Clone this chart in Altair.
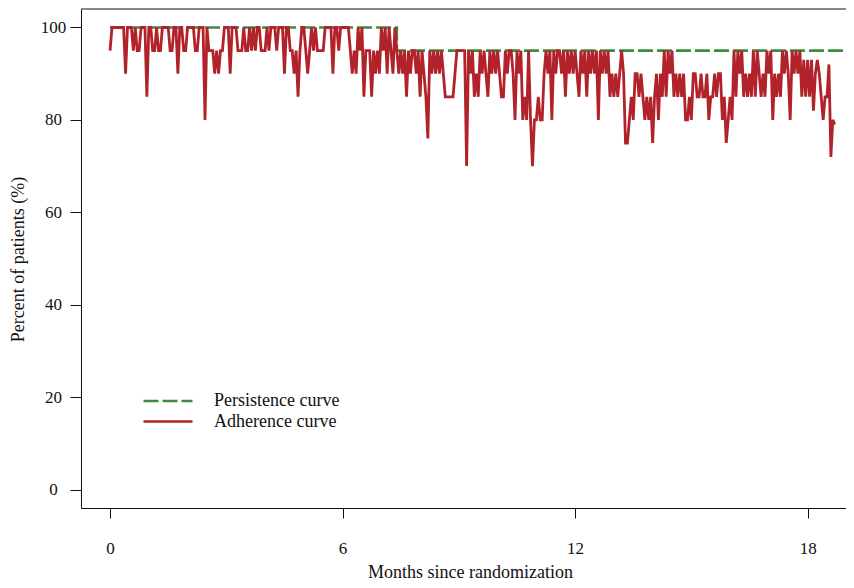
import altair as alt
import pandas as pd

# ---------------- data ----------------
STEP = 0.05  # months between adherence samples

adherence_pct_m0_5 = [
    95, 100, 100, 100, 100, 100, 100, 100, 90, 100, 100, 100, 95, 100, 95, 95, 100, 100, 100, 85,
    100, 100, 95, 95, 100, 95, 95, 100, 100, 100, 100, 95, 95, 100, 100, 90, 100, 100, 95, 95,
    100, 100, 100, 100, 95, 95, 100, 100, 100, 80, 100, 95, 95, 95, 90, 95, 90, 95, 95, 100,
    100, 100, 90, 100, 100, 100, 95, 95, 95, 100, 95, 95, 100, 95, 100, 95, 100, 100, 95, 95,
    95, 100, 95, 100, 100, 100, 95, 100, 100, 100, 90, 100, 100, 95, 95, 90, 95, 85, 95, 100,
    100, 95, 90, 95, 100, 95, 100, 95, 95, 95, 95, 100, 100, 100, 100, 90, 100, 100, 95, 100,
]
adherence_pct_m6_11 = [
    100, 100, 100, 100, 95, 90, 95, 90, 100, 95, 100, 85, 95, 95, 95, 85, 95, 90, 95, 90,
    100, 95, 100, 90, 100, 95, 90, 100, 95, 90, 95, 90, 95, 85, 95, 90, 95, 95, 90, 95,
    85, 95, 90, 85, 76, 95, 90, 95, 90, 95, 90, 95, 90, 85, 85, 85, 85, 85, 90, 95,
    95, 95, 95, 95, 70, 95, 90, 95, 85, 90, 85, 95, 90, 95, 90, 85, 95, 90, 95, 90,
    95, 90, 85, 85, 95, 90, 95, 95, 90, 80, 95, 90, 95, 80, 85, 80, 95, 80, 70, 80,
    80, 85, 80, 80, 90, 95, 90, 95, 80, 95, 90, 95, 95, 90, 95, 85, 95, 90, 95, 90,
]
adherence_pct_m12_18 = [
    95, 90, 85, 95, 90, 95, 85, 95, 90, 95, 90, 95, 80, 95, 90, 95, 90, 95, 85, 90,
    85, 90, 85, 90, 95, 90, 75, 75, 80, 85, 80, 90, 90, 85, 90, 85, 80, 85, 80, 85,
    75, 85, 90, 80, 90, 85, 95, 85, 95, 90, 95, 85, 90, 85, 90, 85, 90, 80, 80, 85,
    80, 90, 90, 85, 85, 90, 85, 85, 90, 80, 85, 85, 90, 85, 90, 90, 80, 85, 75, 80,
    85, 80, 95, 85, 95, 90, 95, 85, 90, 85, 90, 85, 95, 85, 95, 90, 85, 90, 85, 95,
    90, 95, 80, 90, 85, 90, 85, 95, 90, 95, 90, 80, 95, 90, 95, 90, 95, 85, 93, 85,
    93, 85, 93, 82, 90, 93, 90, 85, 80, 85, 85, 92, 72, 80, 79,
]

persistence_months = [0.0, 7.4, 19.2]
persistence_pct = [100, 95, 95]

series_names = ["Persistence curve", "Adherence curve"]
series_colors = ["#3f8a3f", "#b2222a"]
series_dashes = [[15, 4], [1, 0]]

x_ticks = [0, 6, 12, 18]
y_ticks = [0, 20, 40, 60, 80, 100]
x_domain = [-0.75, 18.99]
y_domain = [-4, 104]

# ---------------- tables ----------------
adherence_pct = adherence_pct_m0_5 + adherence_pct_m6_11 + adherence_pct_m12_18
adherence_months = [round(i * STEP, 2) for i in range(len(adherence_pct))]

persist_df = pd.DataFrame({
    "month": persistence_months,
    "pct": persistence_pct,
    "series": [series_names[0]] * len(persistence_pct),
})
adhere_df = pd.DataFrame({
    "month": adherence_months,
    "pct": adherence_pct,
    "series": [series_names[1]] * len(adherence_pct),
})

FONT = "Liberation Serif"
INK = "#111111"
W, H = 765, 499

x_enc = alt.X(
    "month:Q",
    scale=alt.Scale(domain=x_domain, nice=False, zero=False),
    axis=alt.Axis(
        values=x_ticks, format="d", title="Months since randomization",
        grid=False, domainColor=INK, domainWidth=1, tickColor=INK, tickWidth=1,
        tickSize=10, labelFont=FONT, labelFontSize=17, labelColor=INK,
        labelPadding=22, labelFlush=False, labelOverlap=False,
        titleFont=FONT, titleFontSize=18, titleFontWeight="normal", titleColor=INK,
        titleX=389, titleY=69, titleBaseline="alphabetic",
    ),
)
y_enc = alt.Y(
    "pct:Q",
    scale=alt.Scale(domain=y_domain, nice=False, zero=False),
    axis=alt.Axis(
        values=y_ticks, format="d", title="Percent of patients (%)",
        grid=False, domainColor=INK, domainWidth=1, tickColor=INK, tickWidth=1,
        tickSize=11, labelFont=FONT, labelFontSize=17, labelColor=INK,
        labelAlign="center", labelBaseline="middle", labelPadding=17,
        labelFlush=False, labelOverlap=False,
        titleFont=FONT, titleFontSize=18, titleFontWeight="normal", titleColor=INK,
        titleX=-63, titleY=250, titleAngle=270, titleBaseline="middle", titleAlign="center",
    ),
)

legend = alt.Legend(
    orient="none", legendX=61, legendY=382, title=None,
    symbolType="stroke", symbolSize=2401, symbolStrokeWidth=2.6,
    labelFont=FONT, labelFontSize=18, labelColor=INK, labelOffset=20,
    clipHeight=20, rowPadding=0.5, padding=0,
)
color_enc = alt.Color("series:N", scale=alt.Scale(domain=series_names, range=series_colors), legend=legend)
dash_enc = alt.StrokeDash("series:N", scale=alt.Scale(domain=series_names, range=series_dashes), legend=legend)

persist = alt.Chart(persist_df).mark_line(interpolate="step-after", strokeWidth=2.6, clip=True).encode(
    x=x_enc, y=y_enc, color=color_enc, strokeDash=dash_enc
)
adhere = alt.Chart(adhere_df).mark_line(strokeWidth=2.8, clip=True).encode(
    x=x_enc, y=y_enc, color=color_enc, strokeDash=dash_enc
)
top_edge = alt.Chart(pd.DataFrame({"edge": ["top"]})).mark_rule(color=INK, strokeWidth=1).encode(
    x=alt.value(0), x2=alt.value(W), y=alt.value(0)
)

chart = (
    alt.layer(persist, adhere, top_edge)
    .properties(
        width=W, height=H,
        autosize=alt.AutoSizeParams(type="none"),
        padding={"left": 73, "top": 1, "right": 0, "bottom": 72},
        background="white",
    )
    .configure_view(stroke=None)
)

chart.save("out.html", embed_options={"renderer": "svg", "actions": False})
